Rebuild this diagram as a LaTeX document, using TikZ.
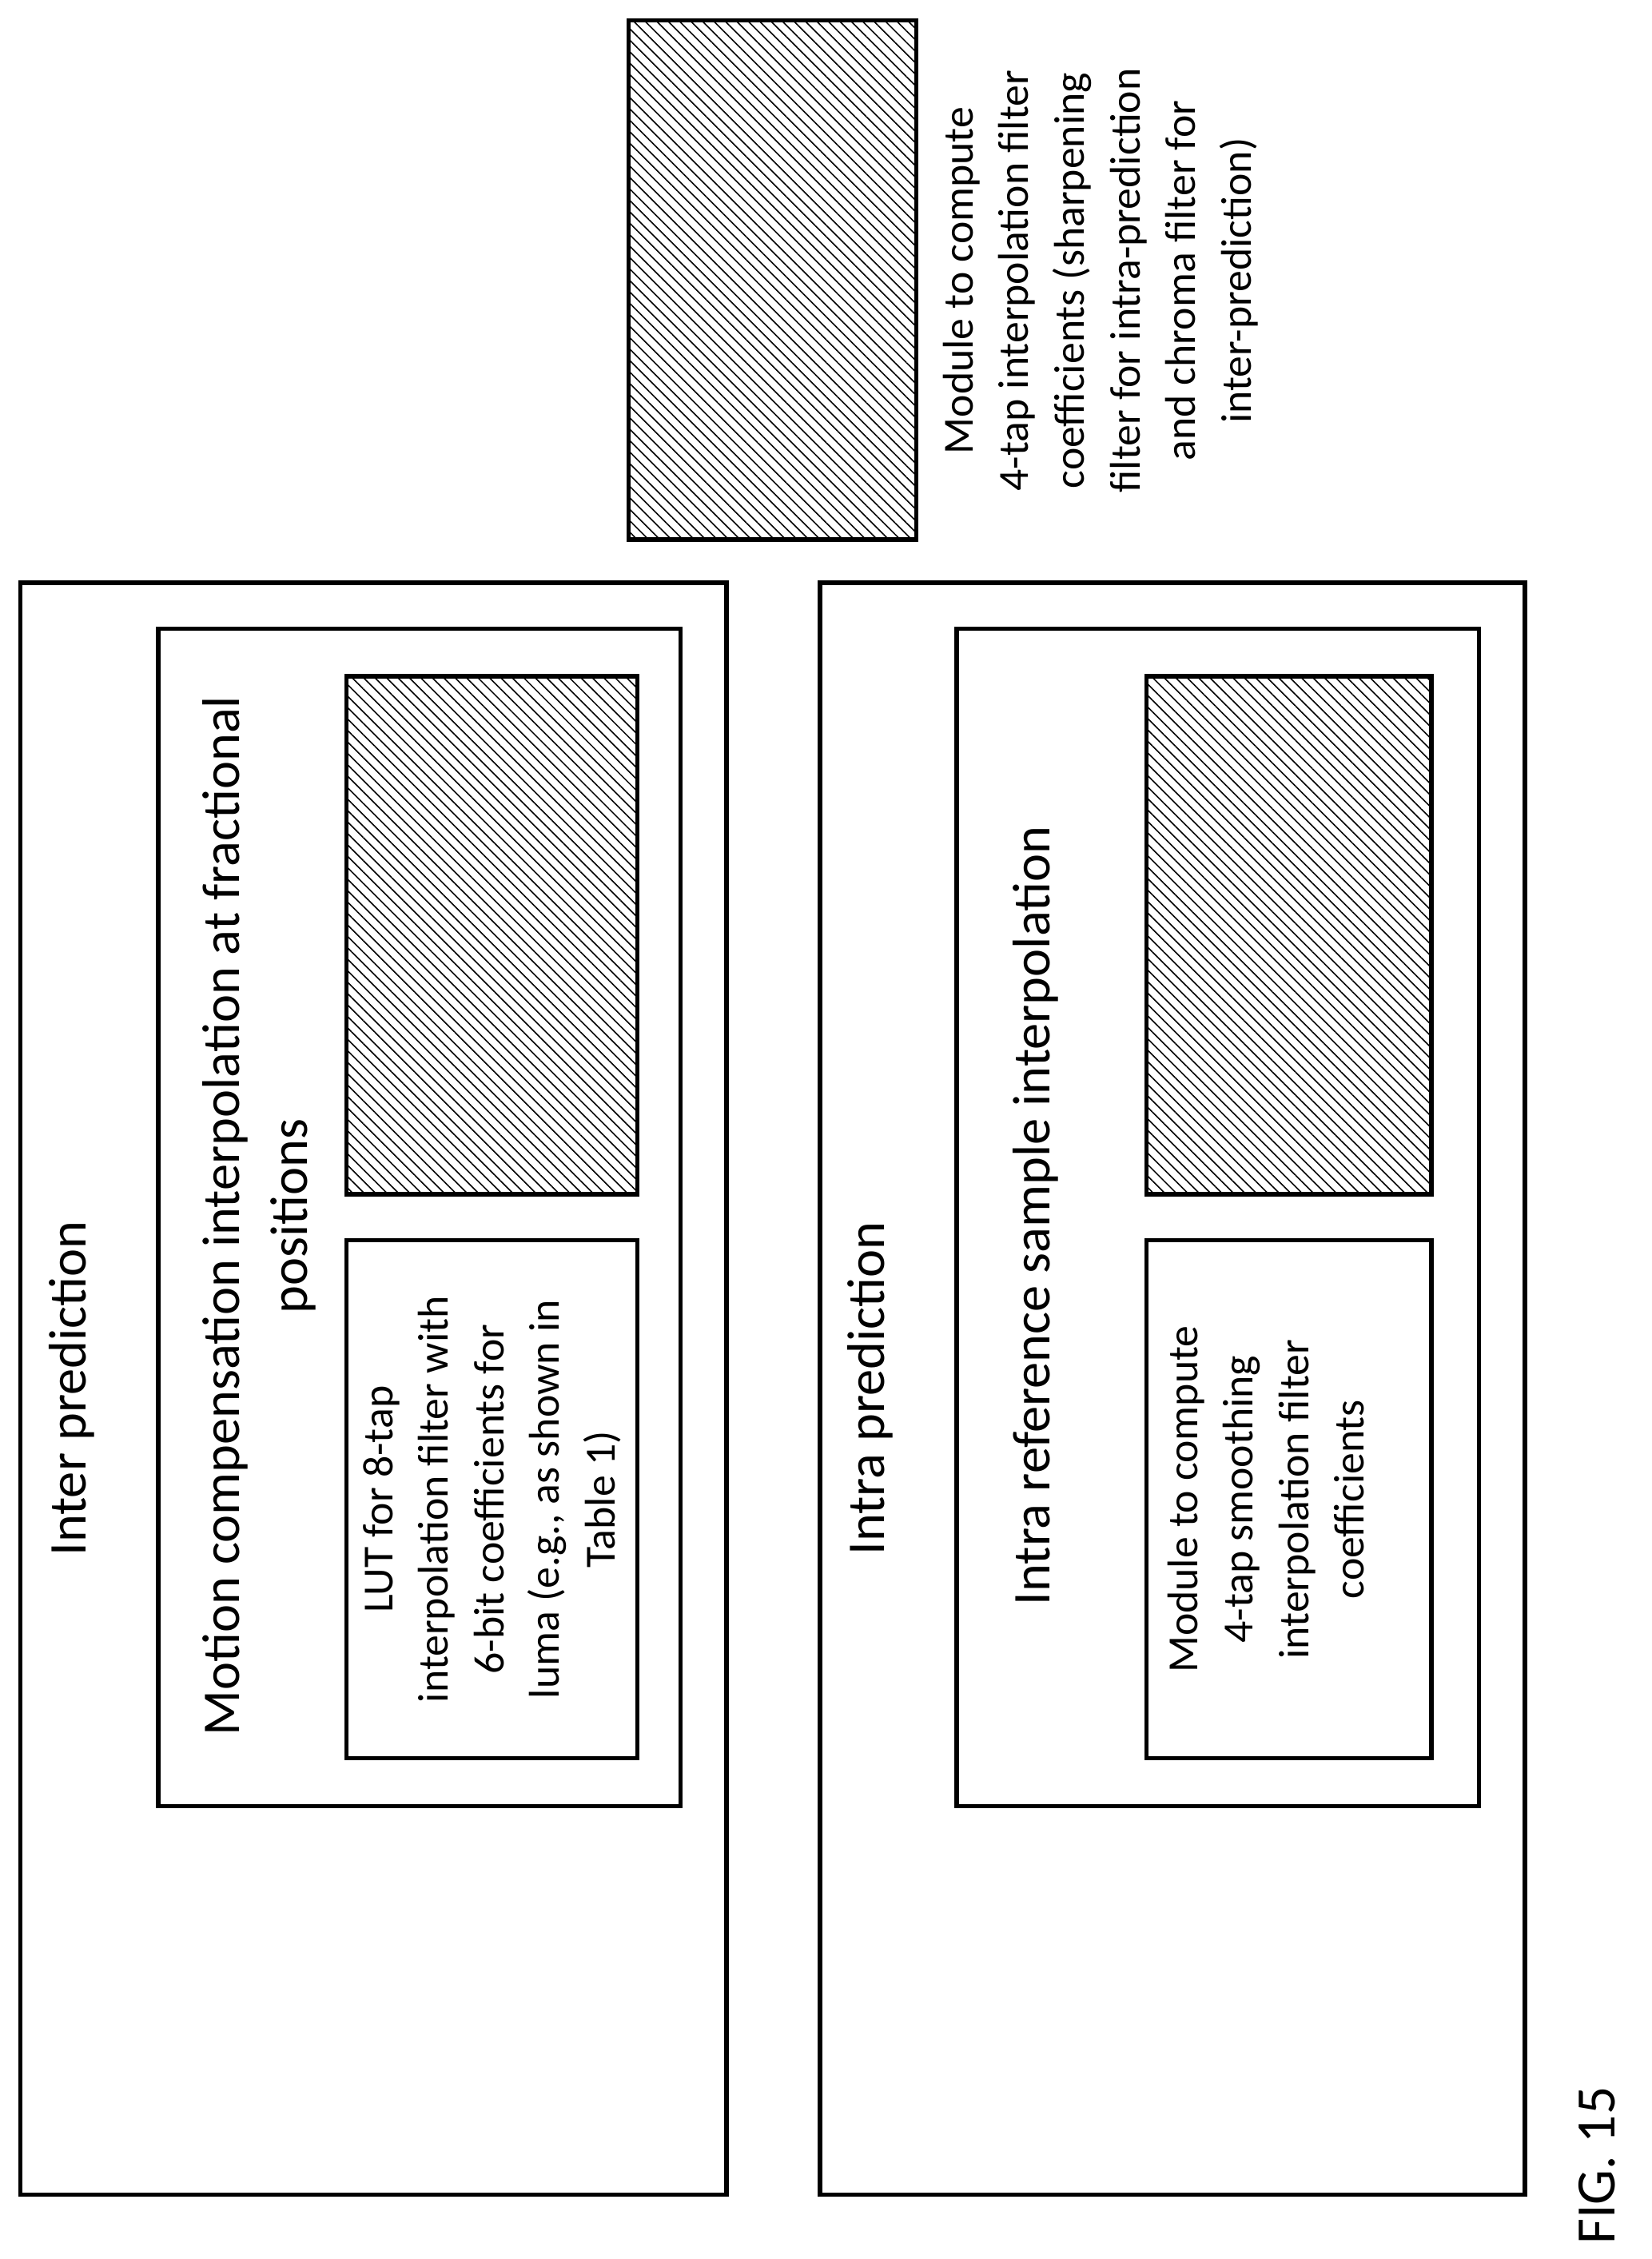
\documentclass[tikz,border=0pt]{standalone}
\usepackage{fontspec}
\setmainfont{Carlito}
\usetikzlibrary{patterns.meta}

\tikzset{
  frame/.style={draw, line width=1.6pt},
  hatched/.style={draw, line width=1.6pt,
    pattern={Lines[angle=-45, distance=3.2pt, line width=0.5pt]}},
  vlabel/.style={rotate=90, align=center, font=\fontsize{21}{27}\selectfont},
  vsmall/.style={rotate=90, align=center, font=\fontsize{17}{22}\selectfont}
}

\begin{document}
\begin{tikzpicture}[x=0.02cm, y=-0.02cm]

    \useasboundingbox (0,0) rectangle (1148,1570);

    % Inter prediction
    \draw[frame] (14,405) rectangle (505,1525);
    \node[vlabel] (interlbl) at (50,965) {Inter prediction};
    \draw[frame] (110,437) rectangle (473,1255);
    \node[vlabel] (mclbl) at (180,845)
        {Motion compensation interpolation at fractional\\positions};
    \draw[frame] (241,862) rectangle (443,1222);
    \node[vsmall] (lut) at (342,1042)
        {LUT for 8-tap\\interpolation filter with\\6-bit coefficients for\\luma (e.g., as shown in\\Table 1)};
    \draw[hatched] (241,470) rectangle (443,830);

    % Intra prediction
    \draw[frame] (570,405) rectangle (1060,1525);
    \node[vlabel] (intralbl) at (605,965) {Intra prediction};
    \draw[frame] (665,437) rectangle (1028,1255);
    \node[vlabel] (reflbl) at (720,845) {Intra reference sample interpolation};
    \draw[frame] (797,862) rectangle (995,1222);
    \node[vsmall] (smooth) at (880,1042)
        {Module to compute\\4-tap smoothing\\interpolation filter\\coefficients};
    \draw[hatched] (797,470) rectangle (995,830);

    % Legend
    \draw[hatched] (437,14) rectangle (637,375);
    \node[vsmall] (legend) at (765,195)
        {Module to compute\\4-tap interpolation filter\\coefficients (sharpening\\filter for intra-prediction\\and chroma filter for\\inter-prediction)};

    \node[rotate=90, font=\fontsize{22}{26}\selectfont] (fig) at (1110,1505) {FIG. 15};

\end{tikzpicture}
\end{document}
